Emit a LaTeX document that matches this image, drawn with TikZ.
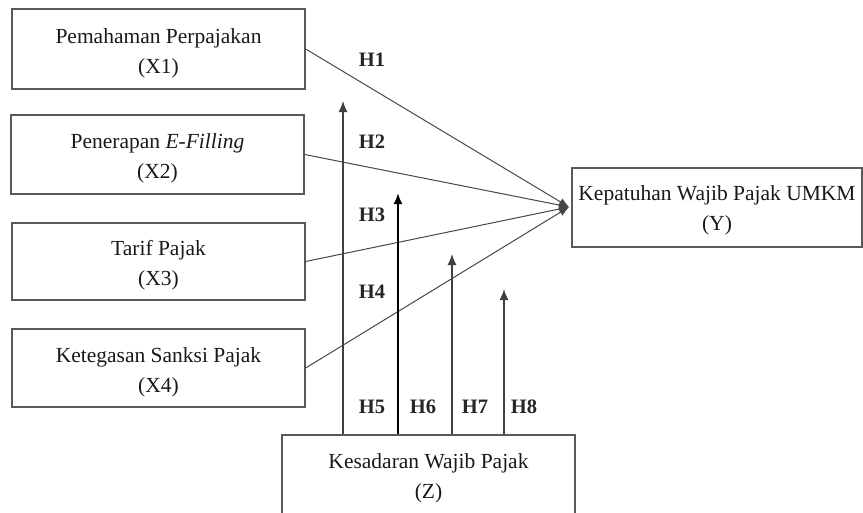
\documentclass[tikz,border=0pt]{standalone}
\usepackage{fontspec}
\setmainfont{Liberation Serif}
\usetikzlibrary{arrows.meta}
\begin{document}
\begin{tikzpicture}[x=1pt,y=-1pt,
  box/.style={draw=black!65, line width=1.3pt, rectangle, inner sep=0pt, minimum width=293pt},
  txt/.style={align=center, font=\fontsize{21.5}{30}\selectfont, text=black!90, inner sep=0pt},
  hlab/.style={font=\fontsize{20.5}{24}\selectfont\bfseries, text=black!85},
  link/.style={draw=black!72, line width=1pt, -{Latex[length=10pt,width=8pt]}},
  mod/.style={draw=black!75, line width=1.1pt, -{Latex[length=11pt,width=9pt]}}
]
\useasboundingbox (0,0) rectangle (863,512);
% predictor boxes
\node[box, minimum height=80pt] (X1) at (158.5,49) {};
\node[box, minimum height=79pt] (X2) at (157.5,154.5) {};
\node[box, minimum height=77pt] (X3) at (158.5,261.5) {};
\node[box, minimum height=78pt] (X4) at (158.5,368) {};
\node[txt] (X1t) at (158.5,53) {Pemahaman Perpajakan\\(X1)};
\node[txt] (X2t) at (157.5,158.5) {Penerapan \textit{E-Filling}\\(X2)};
\node[txt] (X3t) at (158.5,265.5) {Tarif Pajak\\(X3)};
\node[txt] (X4t) at (158.5,372) {Ketegasan Sanksi Pajak\\(X4)};
% outcome
\node[box, minimum width=290pt, minimum height=79pt] (Y) at (717,207.5) {};
\node[txt] (Yt) at (717,210.5) {Kepatuhan Wajib Pajak UMKM\\(Y)};
% moderator
\node[box, minimum height=110pt] (Z) at (428.5,490) {};
\node[txt] (Zt) at (428.5,478.5) {Kesadaran Wajib Pajak\\(Z)};
% convergence point
\coordinate (yin) at (569,207);
\draw[link] (X1.east) -- (yin);
\draw[link] (X2.east) -- (yin);
\draw[link] (X3.east) -- (yin);
\draw[link] (X4.east) -- (yin);
% moderating arrows
\coordinate (t5) at (343,101);
\coordinate (t6) at (398,193);
\coordinate (t7) at (452,254);
\coordinate (t8) at (504,289);
\draw[mod] (Z.north -| t5) -- (t5);
\draw[mod, draw=black, line width=2pt] (Z.north -| t6) -- (t6);
\draw[mod] (Z.north -| t7) -- (t7);
\draw[mod, line width=1.6pt] (Z.north -| t8) -- (t8);
% labels
\node[hlab] (h1) at (372,60) {H1};
\node[hlab] (h2) at (372,142) {H2};
\node[hlab] (h3) at (372,215) {H3};
\node[hlab] (h4) at (372,292) {H4};
\node[hlab] (h5) at (372,407) {H5};
\node[hlab] (h6) at (423,407) {H6};
\node[hlab] (h7) at (475,407) {H7};
\node[hlab] (h8) at (524,407) {H8};
\end{tikzpicture}
\end{document}
